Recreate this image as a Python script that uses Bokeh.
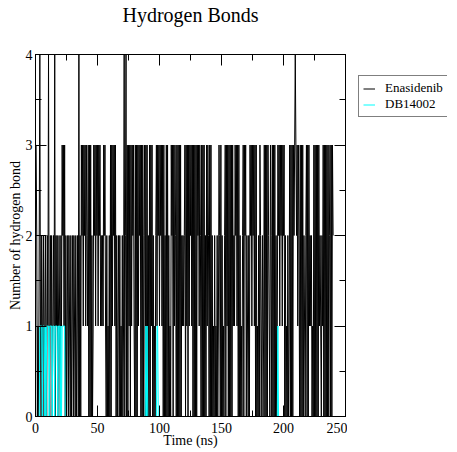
from bokeh.plotting import figure
from bokeh.layouts import row
from bokeh.models import (SingleIntervalTicker, LinearAxis, Range1d, Legend,
                          LegendItem, ColumnDataSource)
from bokeh.embed import file_html
from bokeh.resources import INLINE

# ---------------- data ----------------
TITLE = "Hydrogen Bonds"
X_LABEL = "Time (ns)"
Y_LABEL = "Number of hydrogen bond"
SERIES_NAMES = ["Enasidenib", "DB14002"]
SAMPLE_STEP_NS = 0.5          # one sample every 0.5 ns, 0 .. 240 ns

# number of hydrogen bonds, rows of 10 ns
enasidenib = [
    3, 3, 2, 0, 1, 0, 2, 4, 1, 0, 2, 1, 0, 2, 1, 0, 2, 1, 0, 2,   # 0-10
    1, 4, 1, 0, 2, 1, 2, 0, 1, 2, 1, 4, 0, 2, 1, 2, 0, 1, 2, 1,   # 10-20
    0, 2, 1, 3, 2, 3, 1, 3, 0, 2, 0, 1, 2, 0, 2, 1, 0, 2, 0, 1,   # 20-30
    2, 0, 2, 1, 0, 2, 0, 1, 2, 0, 4, 0, 2, 0, 3, 2, 3, 1, 3, 2,   # 30-40
    3, 1, 3, 2, 1, 3, 0, 3, 0, 3, 0, 2, 0, 1, 3, 2, 3, 1, 3, 2,   # 40-50
    3, 1, 3, 2, 3, 1, 2, 1, 2, 1, 3, 2, 3, 1, 0, 2, 0, 1, 0, 2,   # 50-60
    0, 3, 0, 3, 1, 3, 2, 3, 1, 3, 0, 2, 0, 1, 2, 0, 2, 0, 1, 0,   # 60-70
    2, 0, 1, 4, 0, 2, 4, 0, 3, 0, 3, 1, 3, 0, 3, 1, 3, 2, 3, 1,   # 70-80
    0, 3, 0, 3, 0, 3, 1, 3, 2, 3, 0, 3, 0, 3, 0, 2, 3, 0, 3, 0,   # 80-90
    3, 0, 2, 0, 3, 0, 3, 1, 3, 0, 2, 0, 1, 0, 2, 3, 1, 3, 2, 3,   # 90-100
    1, 3, 2, 3, 1, 3, 0, 3, 0, 2, 0, 3, 0, 3, 0, 2, 0, 1, 0, 3,   # 100-110
    2, 3, 0, 3, 1, 3, 2, 0, 3, 0, 3, 0, 3, 0, 3, 0, 2, 1, 2, 1,   # 110-120
    2, 3, 0, 3, 1, 3, 0, 3, 1, 3, 2, 3, 1, 3, 0, 3, 0, 3, 0, 3,   # 120-130
    0, 3, 2, 3, 1, 3, 2, 0, 3, 0, 3, 0, 3, 0, 2, 0, 3, 1, 3, 2,   # 130-140
    0, 3, 0, 3, 0, 2, 0, 1, 0, 2, 0, 1, 0, 2, 0, 1, 3, 2, 0, 3,   # 140-150
    0, 2, 0, 1, 0, 2, 3, 0, 3, 1, 3, 0, 3, 0, 3, 0, 3, 0, 3, 1,   # 150-160
    2, 1, 3, 2, 3, 1, 3, 0, 3, 0, 2, 0, 1, 0, 2, 3, 0, 3, 2, 3,   # 160-170
    0, 2, 1, 0, 2, 0, 3, 2, 3, 1, 3, 2, 3, 1, 3, 0, 3, 0, 1, 0,   # 170-180
    2, 0, 3, 2, 0, 1, 2, 0, 1, 3, 0, 3, 0, 3, 0, 3, 2, 1, 0, 3,   # 180-190
    2, 0, 3, 0, 3, 0, 3, 0, 2, 0, 1, 3, 2, 3, 1, 3, 2, 3, 1, 3,   # 190-200
    2, 3, 0, 2, 0, 1, 0, 2, 0, 1, 3, 0, 3, 0, 3, 0, 3, 2, 3, 4,   # 200-210
    3, 2, 3, 1, 3, 2, 0, 3, 0, 3, 0, 3, 0, 2, 1, 0, 2, 3, 0, 3,   # 210-220
    0, 3, 1, 2, 1, 2, 0, 1, 0, 3, 0, 3, 0, 3, 0, 3, 0, 3, 1, 2,   # 220-230
    1, 0, 2, 1, 3, 0, 3, 0, 3, 0, 3, 0, 3, 0, 2, 3, 0, 3, 0, 3,   # 230-240
    2,
]

db14002 = [
    0, 0, 0, 0, 0, 0, 0, 1, 1, 1, 1, 0, 1, 1, 1, 0, 1, 0, 1, 1,   # 0-10
    1, 1, 0, 1, 1, 1, 1, 0, 1, 1, 1, 0, 1, 1, 1, 1, 0, 1, 1, 1,   # 10-20
    0, 1, 0, 1, 1, 1, 1, 1, 0, 0, 0, 0, 0, 0, 0, 0, 0, 0, 0, 0,   # 20-30
    0, 0, 0, 0, 0, 0, 0, 0, 0, 0, 0, 0, 0, 0, 0, 0, 0, 0, 0, 0,   # 30-40
    0, 0, 0, 0, 0, 0, 0, 0, 0, 0, 0, 0, 0, 0, 0, 0, 0, 0, 0, 0,   # 40-50
    0, 0, 0, 0, 0, 0, 0, 0, 0, 0, 0, 0, 0, 0, 0, 0, 0, 0, 0, 0,   # 50-60
    0, 0, 0, 0, 0, 0, 0, 0, 0, 0, 0, 0, 0, 0, 0, 0, 0, 0, 0, 0,   # 60-70
    0, 0, 0, 0, 0, 0, 0, 0, 0, 0, 0, 0, 0, 0, 0, 0, 0, 0, 0, 0,   # 70-80
    0, 0, 0, 0, 0, 0, 0, 0, 0, 0, 0, 0, 0, 0, 0, 0, 0, 0, 1, 0,   # 80-90
    1, 0, 0, 0, 0, 0, 0, 0, 0, 0, 0, 0, 0, 0, 0, 0, 1, 1, 0, 0,   # 90-100
    0, 0, 0, 0, 0, 0, 0, 0, 0, 0, 0, 0, 0, 0, 0, 0, 0, 0, 0, 0,   # 100-110
    0, 0, 0, 0, 0, 0, 0, 0, 0, 0, 0, 0, 0, 0, 0, 0, 0, 0, 0, 0,   # 110-120
    0, 0, 0, 0, 0, 0, 0, 0, 0, 0, 0, 0, 0, 0, 0, 0, 0, 0, 0, 0,   # 120-130
    0, 0, 0, 0, 0, 0, 0, 0, 0, 0, 0, 0, 0, 0, 0, 0, 0, 0, 0, 0,   # 130-140
    0, 0, 0, 0, 0, 0, 0, 0, 0, 0, 0, 0, 0, 0, 0, 0, 0, 0, 0, 0,   # 140-150
    0, 0, 0, 0, 0, 0, 0, 0, 0, 0, 0, 0, 0, 0, 0, 0, 0, 0, 0, 0,   # 150-160
    0, 0, 0, 0, 0, 0, 0, 0, 0, 0, 0, 0, 0, 0, 0, 0, 0, 0, 0, 0,   # 160-170
    0, 0, 0, 0, 0, 0, 0, 0, 0, 0, 0, 0, 0, 0, 0, 0, 0, 0, 0, 0,   # 170-180
    0, 0, 0, 0, 0, 0, 0, 0, 0, 0, 0, 0, 0, 0, 0, 0, 0, 0, 0, 0,   # 180-190
    0, 0, 0, 0, 0, 0, 0, 0, 0, 0, 0, 1, 0, 0, 0, 0, 0, 0, 0, 0,   # 190-200
    0, 0, 0, 0, 0, 0, 0, 0, 0, 0, 0, 0, 0, 0, 0, 0, 0, 0, 0, 0,   # 200-210
    0, 0, 0, 0, 0, 0, 0, 0, 0, 0, 0, 0, 0, 0, 0, 0, 0, 0, 0, 0,   # 210-220
    0, 0, 0, 0, 0, 0, 0, 0, 0, 0, 0, 0, 0, 0, 0, 0, 0, 0, 0, 0,   # 220-230
    0, 0, 0, 0, 0, 0, 0, 0, 0, 0, 0, 0, 0, 0, 0, 0, 0, 0, 0, 0,   # 230-240
    0,
]

time_ns = [i * SAMPLE_STEP_NS for i in range(len(enasidenib))]

X_START, X_END, X_MAJOR = 0, 250, 50
Y_START, Y_END, Y_MAJOR = 0, 4, 1

SERIES_COLORS = ["black", "#00FFFF"]

# ---------------- main figure ----------------
FONT = "Liberation Serif"
TOTAL_H = 452
TOP, BOTTOM = 53, 36

p = figure(width=347, height=TOTAL_H,
           x_range=Range1d(X_START, X_END), y_range=Range1d(Y_START, Y_END),
           output_backend="svg", toolbar_location=None,
           min_border_left=35, min_border_right=2,
           min_border_top=TOP, min_border_bottom=BOTTOM,
           background_fill_color="white", border_fill_color="white")

p.grid.visible = False
p.outline_line_color = "black"
p.outline_line_width = 1

def style_axis(ax, labels=True):
    ax.axis_line_color = "black"
    ax.major_tick_line_color = "black"
    ax.minor_tick_line_color = "black"
    ax.major_tick_in = 11
    ax.major_tick_out = 0
    ax.minor_tick_in = 6
    ax.minor_tick_out = 0
    ax.axis_label_text_font = FONT
    ax.axis_label_text_font_style = "normal"
    ax.axis_label_text_color = "black"
    if labels:
        ax.major_label_text_font = FONT
        ax.major_label_text_font_size = "14px"
        ax.major_label_text_color = "black"
        ax.major_label_standoff = 6
        ax.axis_label_text_font_size = "14px"
        ax.axis_label_standoff = -3
    else:
        ax.major_label_text_font_size = "1px"
        ax.major_label_text_color = None
        ax.major_label_standoff = 0

p.xaxis.ticker = SingleIntervalTicker(interval=X_MAJOR, num_minor_ticks=2)
p.yaxis.ticker = SingleIntervalTicker(interval=Y_MAJOR, num_minor_ticks=2)
p.xaxis.axis_label = X_LABEL
p.yaxis.axis_label = Y_LABEL
style_axis(p.xaxis[0])
style_axis(p.yaxis[0])
p.yaxis[0].axis_label_standoff = 0
p.yaxis[0].major_label_standoff = 3

# top axis carries the chart title as its label (mirrored ticks like the original)
top_axis = LinearAxis(ticker=SingleIntervalTicker(interval=X_MAJOR, num_minor_ticks=2))
right_axis = LinearAxis(ticker=SingleIntervalTicker(interval=Y_MAJOR, num_minor_ticks=2))
style_axis(top_axis, labels=False)
style_axis(right_axis, labels=False)
top_axis.axis_label = TITLE
top_axis.axis_label_text_font_size = "20px"
top_axis.axis_label_standoff = 29
p.add_layout(top_axis, "above")
p.add_layout(right_axis, "right")

src = ColumnDataSource(dict(t=time_ns, a=enasidenib, b=db14002))
p.line("t", "a", source=src, line_color=SERIES_COLORS[0], line_width=1)
p.line("t", "b", source=src, line_color=SERIES_COLORS[1], line_width=1)

# ---------------- legend panel (same height / borders, so frames line up) ----------------
# the legend keys reuse the real series; this panel's x range lies beyond the data,
# so only the legend itself is seen here
lg = figure(width=100, height=TOTAL_H, output_backend="svg", toolbar_location=None,
            x_range=Range1d(X_END + 1000, X_END + 1001), y_range=Range1d(Y_START, Y_END),
            x_axis_location=None, y_axis_location=None,
            min_border_left=0, min_border_right=0,
            min_border_top=TOP, min_border_bottom=BOTTOM,
            background_fill_color="white", border_fill_color="white",
            outline_line_color=None)
lg.grid.visible = False
k1 = lg.line("t", "a", source=src, line_color=SERIES_COLORS[0], line_width=1)
k2 = lg.line("t", "b", source=src, line_color=SERIES_COLORS[1], line_width=1)

legend = Legend(items=[LegendItem(label=SERIES_NAMES[0], renderers=[k1]),
                       LegendItem(label=SERIES_NAMES[1], renderers=[k2])],
                location=(11, 299))
legend.label_text_font = FONT
legend.label_text_font_size = "13px"
legend.label_text_color = "black"
legend.glyph_width = 12
legend.glyph_height = 15
legend.label_height = 15
legend.label_standoff = 10
legend.spacing = 0
legend.padding = 4
legend.margin = 0
legend.border_line_color = "black"
legend.border_line_width = 1
legend.background_fill_color = "white"
legend.background_fill_alpha = 1
lg.add_layout(legend, "center")

open("out.html", "w").write(file_html(row(p, lg), INLINE))
